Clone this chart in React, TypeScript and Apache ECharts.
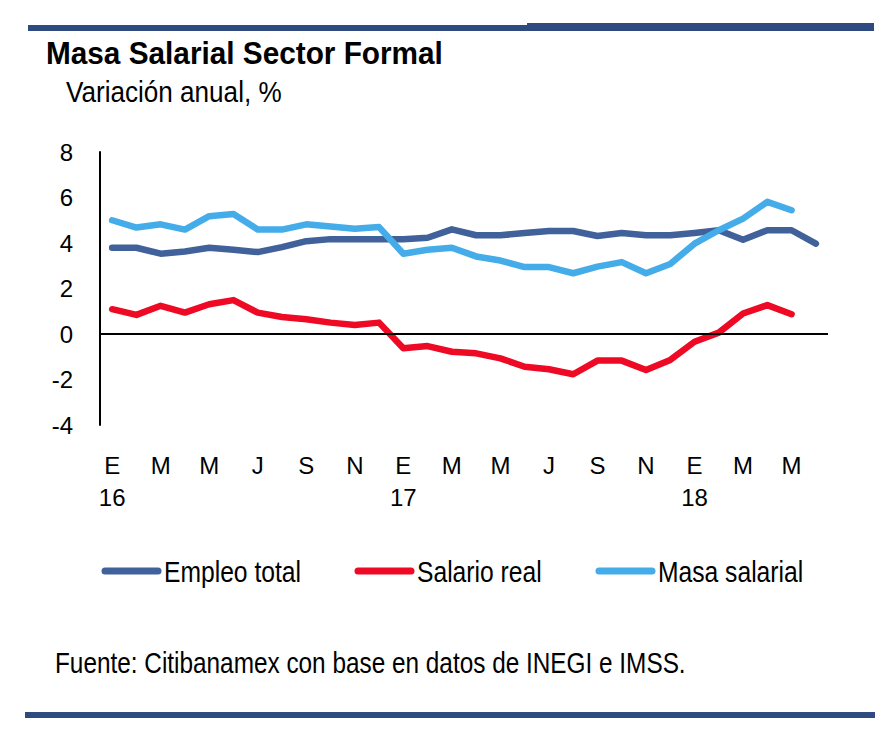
import React, { useEffect, useRef } from "react";
import * as echarts from "echarts";

const monthInitials = ["E", "F", "M", "A", "M", "J", "J", "A", "S", "O", "N", "D"];
const years = ["16", "17", "18"];
const monthCount = 30; // Jan 2016 .. Jun 2018
const yTicks = { min: -4, max: 8, interval: 2 };

const empleoTotal = [3.79, 3.79, 3.53, 3.63, 3.79, 3.70, 3.60, 3.82, 4.08, 4.17, 4.17, 4.17, 4.17, 4.23, 4.60, 4.34, 4.34, 4.44, 4.53, 4.53, 4.31, 4.44, 4.34, 4.34, 4.44, 4.56, 4.14, 4.56, 4.56, 3.97];
const salarioReal = [1.09, 0.84, 1.24, 0.94, 1.31, 1.49, 0.94, 0.75, 0.65, 0.50, 0.40, 0.50, -0.63, -0.53, -0.78, -0.85, -1.07, -1.44, -1.55, -1.77, -1.17, -1.17, -1.58, -1.14, -0.34, 0.06, 0.90, 1.27, 0.87];
const masaSalarial = [5.00, 4.68, 4.82, 4.59, 5.18, 5.27, 4.59, 4.59, 4.82, 4.73, 4.63, 4.70, 3.53, 3.70, 3.79, 3.41, 3.23, 2.94, 2.94, 2.67, 2.96, 3.16, 2.67, 3.08, 3.97, 4.56, 5.07, 5.81, 5.44];

const seriesNames = ["Empleo total", "Salario real", "Masa salarial"];
const seriesColors = ["#41619a", "#ee0a24", "#44ace8"];

const categories: string[] = [];
for (let i = 0; i < monthCount; i++) {
  const m = i % 12;
  const y = Math.floor(i / 12);
  categories.push(m === 0 ? `${monthInitials[m]}\n${years[y]}` : monthInitials[m]);
}

const FONT = '"Liberation Sans", Arial, sans-serif';
const NAVY = "#2e4a7e";
const legendX = [102, 355, 596];
const legendIconW = 59;
const legendY = 571;

export default function App() {
  const ref = useRef<HTMLDivElement>(null);
  useEffect(() => {
    if (!ref.current) return;
    const chart = echarts.init(ref.current, null, { renderer: "svg" });
    const lineSeries = (name: string, data: number[], color: string, extra: any = {}) => ({
      name,
      type: "line",
      data,
      symbol: "none",
      smooth: false,
      lineStyle: { color, width: 6.5, cap: "round", join: "round" },
      itemStyle: { color },
      ...extra,
    });
    const legendGraphics: any[] = [];
    seriesNames.forEach((name, i) => {
      legendGraphics.push({
        type: "line",
        shape: { x1: legendX[i] + 3, y1: legendY, x2: legendX[i] + legendIconW - 3, y2: legendY },
        style: { stroke: seriesColors[i], lineWidth: 7, lineCap: "round" },
      });
      legendGraphics.push({
        type: "text",
        x: legendX[i] + legendIconW + 3,
        y: legendY + 1,
        scaleX: 0.85,
        style: { text: name, fill: "#000", font: `29px ${FONT}`, verticalAlign: "middle" },
      });
    });
    chart.setOption({
      animation: false,
      backgroundColor: "#ffffff",
      grid: { left: 100, top: 152, width: 728, height: 273, containLabel: false },
      xAxis: {
        type: "category",
        data: categories,
        boundaryGap: true,
        axisLine: { show: false },
        axisTick: { show: false },
        splitLine: { show: false },
        axisLabel: {
          interval: 1,
          color: "#000",
          fontFamily: FONT,
          fontSize: 24,
          lineHeight: 32,
          margin: 24,
        },
      },
      yAxis: {
        type: "value",
        min: yTicks.min,
        max: yTicks.max,
        interval: yTicks.interval,
        axisLine: { show: true, lineStyle: { color: "#000", width: 2 } },
        axisTick: { show: false },
        splitLine: { show: false },
        axisLabel: { color: "#000", fontFamily: FONT, fontSize: 24, margin: 27 },
      },
      series: [
        lineSeries(seriesNames[0], empleoTotal, seriesColors[0], {
          markLine: {
            silent: true,
            symbol: ["none", "none"],
            label: { show: false },
            lineStyle: { color: "#000", width: 2, type: "solid" },
            data: [{ yAxis: 0 }],
          },
        }),
        lineSeries(seriesNames[1], salarioReal, seriesColors[1]),
        lineSeries(seriesNames[2], masaSalarial, seriesColors[2]),
      ],
      graphic: [
        { type: "rect", shape: { x: 28, y: 25, width: 500, height: 6 }, style: { fill: NAVY } },
        { type: "rect", shape: { x: 527, y: 23, width: 347, height: 8 }, style: { fill: NAVY } },
        { type: "rect", shape: { x: 25, y: 712, width: 850, height: 6 }, style: { fill: NAVY } },
        {
          type: "text",
          x: 46,
          y: 53,
          scaleX: 0.96,
          style: { text: "Masa Salarial Sector Formal", fill: "#000", font: `bold 31px ${FONT}`, verticalAlign: "middle" },
        },
        {
          type: "text",
          x: 66,
          y: 92,
          scaleX: 0.87,
          style: { text: "Variación anual, %", fill: "#000", font: `30px ${FONT}`, verticalAlign: "middle" },
        },
        {
          type: "text",
          x: 55,
          y: 663,
          scaleX: 0.84,
          style: { text: "Fuente: Citibanamex con base en datos de INEGI e IMSS.", fill: "#000", font: `29px ${FONT}`, verticalAlign: "middle" },
        },
        ...legendGraphics,
      ],
    });
    return () => chart.dispose();
  }, []);
  return (
    <div
      ref={ref}
      style={{ position: "absolute", left: 0, top: 0, width: 886, height: 739, background: "#fff" }}
    />
  );
}
